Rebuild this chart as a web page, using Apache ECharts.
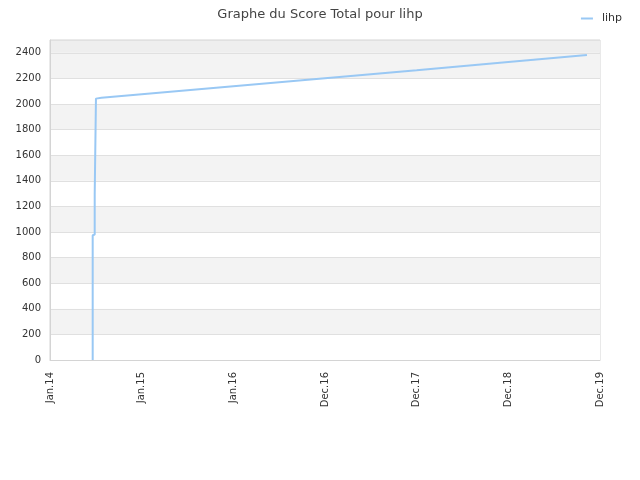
<!DOCTYPE html>
<html>
<head>
<meta charset="utf-8">
<script src="https://cdn.jsdelivr.net/npm/echarts@6/dist/echarts.min.js"></script>
<style>html,body{margin:0;padding:0;background:#fff;}#c{width:640px;height:480px;}</style>
</head>
<body>
<div id="c"></div>
<script>
var titleText = "Graphe du Score Total pour lihp";
var seriesName = "lihp";
var dates = ["2014-06-20","2014-06-20","2014-06-28","2014-06-28","2014-07-03","2014-07-03","2014-07-25","2015-01-01","2016-01-01","2016-12-31","2017-12-31","2018-12-31","2019-11-09"];
var scores = [0, 975, 980, 1290, 1290, 2042, 2048, 2076, 2139, 2202, 2264, 2328, 2383];
var yTicks = [0,200,400,600,800,1000,1200,1400,1600,1800,2000,2200,2400];
var months = ["Jan","Feb","Mar","Apr","May","Jun","Jul","Aug","Sep","Oct","Nov","Dec"];

var DAY = 86400000;
var origin = Date.UTC(2014,0,1);
function toDays(s){ return (Date.parse(s + "T00:00:00Z") - origin) / DAY; }
var data = dates.map(function(d,i){ return [toDays(d), scores[i]]; });

var bandColors = [];
for (var i = 0; i < yTicks.length - 1; i++) bandColors.push(i % 2 === 0 ? '#ffffff' : '#f3f3f3');
bandColors.push('#eeeeee');

var chart = echarts.init(document.getElementById('c'), null, {renderer:'canvas'});
chart.setOption({
  animation: false,
  backgroundColor: '#ffffff',
  title: {
    text: titleText, left: 'center', top: 3,
    textStyle: {fontFamily: 'DejaVu Sans', fontSize: 13, fontWeight: 'normal', color: '#444444'}
  },
  legend: {
    right: 13, top: 8, itemWidth: 12, itemHeight: 2, itemGap: 8,
    data: [{name: seriesName, icon: 'rect'}],
    textStyle: {fontFamily: 'DejaVu Sans', fontSize: 11, color: '#333333', padding: [0,0,0,4]}
  },
  grid: {left: 50, right: 40, top: 40, bottom: 120, show: true, borderColor: '#d4d4d4', borderWidth: 1, containLabel: false},
  xAxis: {
    type: 'value', min: 0, max: 6*365, interval: 365,
    axisLine: {show: true, lineStyle: {color: '#d4d4d4'}},
    axisTick: {show: false},
    splitLine: {show: false},
    axisLabel: {
      rotate: 90, margin: 12, fontFamily: 'DejaVu Sans', fontSize: 10, color: '#333333',
      formatter: function(v){
        var d = new Date(origin + v*DAY);
        return months[d.getUTCMonth()] + '.' + String(d.getUTCFullYear()).slice(2);
      }
    }
  },
  yAxis: {
    type: 'value', min: 0, max: 2500, interval: 200,
    axisLine: {show: true, lineStyle: {color: '#d4d4d4'}},
    axisTick: {show: false},
    splitLine: {show: true, lineStyle: {color: '#e0e0e0'}},
    splitArea: {show: true, areaStyle: {color: bandColors}},
    axisLabel: {
      margin: 9, fontFamily: 'DejaVu Sans', fontSize: 10, color: '#333333', showMaxLabel: false,
      formatter: function(v){ return yTicks.indexOf(v) >= 0 ? String(v) : ''; }
    }
  },
  series: [{
    name: seriesName, type: 'line', data: data,
    symbol: 'none', showSymbol: false,
    lineStyle: {color: '#99c8f4', width: 2},
    itemStyle: {color: '#99c8f4'}
  }]
});
</script>
</body>
</html>
